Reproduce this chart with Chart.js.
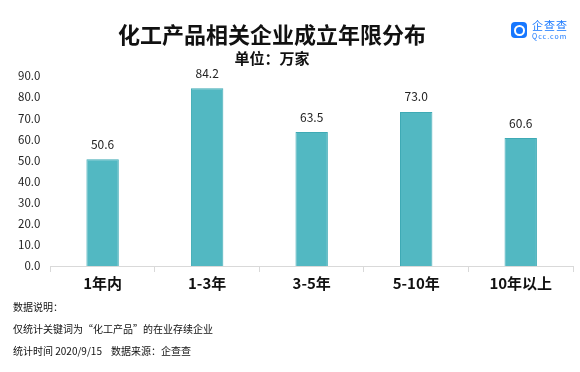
<!DOCTYPE html>
<html>
<head>
<meta charset="utf-8">
<script src="https://cdn.jsdelivr.net/npm/chart.js@4"></script>
<style>
  body { margin: 0; background: #fff; }
  #wrap { position: relative; width: 580px; height: 372px; font-family: "Noto Sans CJK SC", sans-serif; color: #111; }
  #wrap canvas { position: absolute; left: 0; top: 0; }
  .txt { position: absolute; white-space: nowrap; }
  #title { left: 0; width: 544px; top: 18px; text-align: center; font-size: 22px; font-weight: bold; line-height: 30px; }
  #sub { left: 0; width: 544px; top: 48px; text-align: center; font-size: 15px; font-weight: bold; line-height: 20px; }
  #logoIcon { position: absolute; left: 511px; top: 22px; width: 16px; height: 16px; border-radius: 4px; background: #1677ff; }
  #logoIcon div { position: absolute; left: 3px; top: 3px; width: 7px; height: 7px; border: 2px solid #fff; border-radius: 50%; }
  #logoName { left: 532px; top: 18px; font-size: 11px; color: #1677ff; line-height: 14px; letter-spacing: 1px; }
  #logoUrl { left: 532px; top: 32px; font-size: 7px; color: #1677ff; line-height: 9px; letter-spacing: 1px; }
  .note { left: 13px; font-size: 10px; line-height: 14px; color: #111; }
</style>
</head>
<body>
<div id="wrap">
  <canvas id="chart" width="580" height="372"></canvas>
  <div class="txt" id="title">化工产品相关企业成立年限分布</div>
  <div class="txt" id="sub">单位：万家</div>
  <div id="logoIcon"><div></div></div>
  <div class="txt" id="logoName">企查查</div>
  <div class="txt" id="logoUrl">Qcc.com</div>
  <div class="txt note" style="top:300px">数据说明：</div>
  <div class="txt note" style="top:322px">仅统计关键词为“化工产品”的在业存续企业</div>
  <div class="txt note" style="top:344px">统计时间 2020/9/15&nbsp;&nbsp;&nbsp;&nbsp;数据来源：企查查</div>
</div>
<script>
// 数据
const categorias = ['1年内', '1-3年', '3-5年', '5-10年', '10年以上'];
const valores = [50.6, 84.2, 63.5, 73.0, 60.6];
const eixoMin = 0;
const eixoMax = 90;
const eixoPasso = 10;

const fonte = '"Noto Sans CJK SC", sans-serif';

// rótulos em cima das barras
const rotulos = {
    id: 'rotulos',
    afterDatasetsDraw(chart) {
        const ctx = chart.ctx;
        const meta = chart.getDatasetMeta(0);
        ctx.save();
        ctx.font = '12px ' + fonte;
        ctx.fillStyle = '#222';
        ctx.textAlign = 'center';
        ctx.textBaseline = 'bottom';
        meta.data.forEach(function (bar, i) {
            ctx.fillText(valores[i].toFixed(1), bar.x, bar.y - 9);
        });
        ctx.restore();
    }
};

let ctx = document.getElementById('chart').getContext('2d');
let chart = new Chart(ctx, {
    type: 'bar',
    data: {
        labels: categorias,
        datasets: [{
            data: valores,
            backgroundColor: '#52b8c2',
            borderColor: '#3eaab5',
            borderWidth: 1,
            categoryPercentage: 1,
            barPercentage: 0.31
        }]
    },
    options: {
        responsive: false,
        animation: false,
        layout: { padding: { top: 76, right: 7, bottom: 78, left: 16 } },
        plugins: { legend: { display: false }, tooltip: { enabled: false } },
        scales: {
            x: {
                offset: true,
                border: { color: '#d9d9d9' },
                grid: { drawOnChartArea: false, color: '#d9d9d9', tickLength: 6, offset: true },
                ticks: { color: '#111', font: { family: fonte, size: 15, weight: 'bold' }, padding: 2 }
            },
            y: {
                min: eixoMin,
                max: eixoMax,
                border: { display: false },
                grid: { display: false },
                ticks: {
                    stepSize: eixoPasso,
                    color: '#222',
                    padding: 2,
                    font: { family: fonte, size: 11.5 },
                    callback: function (v) { return v.toFixed(1); }
                }
            }
        }
    },
    plugins: [rotulos]
});
</script>
</body>
</html>
